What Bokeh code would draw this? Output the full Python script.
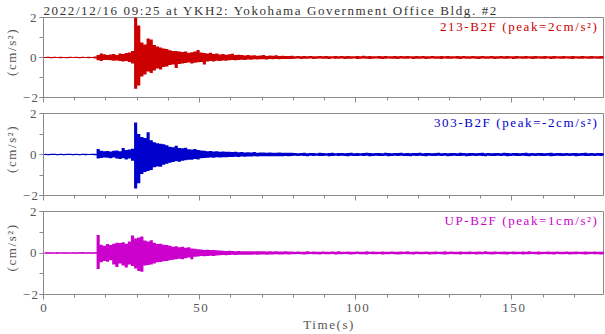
import numpy as np
from bokeh.plotting import figure
from bokeh.layouts import column
from bokeh.models import Label, FixedTicker, Range1d, CustomLabelingPolicy
from bokeh.embed import file_html
from bokeh.resources import INLINE

TITLE = "2022/12/16 09:25 at YKH2: Yokohama Government Office Bldg. #2"
channels = ["213-B2F", "303-B2F", "UP-B2F"]
peaks = ["2", "-2", "1"]
colors = ["#cc0000", "#0000cc", "#cc00cc"]
time_s = list(range(180))          # start of each 1-s bin
x_ticks = [0, 50, 100, 150]
x_minor = list(range(0, 181, 10))
y_ticks = [-2, 0, 2]
y_minor = [-2, -1, 0, 1, 2]

# per-second max / min of each trace (cm/s^2)
red_hi = [
 0.03,0.04,0.03,0.04,0.03,0.04,0.03,0.03,0.04,0.03,
 0.04,0.03,0.04,0.03,0.04,0.03,0.05,0.12,0.20,0.16,
 0.12,0.15,0.18,0.13,0.20,0.17,0.22,0.25,0.32,2.00,
 1.60,0.75,0.65,0.95,0.90,0.62,0.55,0.50,0.45,0.42,
 0.36,0.32,0.33,0.30,0.28,0.30,0.24,0.26,0.30,0.37,
 0.25,0.22,0.20,0.24,0.17,0.20,0.15,0.18,0.14,0.16,
 0.19,0.12,0.14,0.12,0.10,0.12,0.10,0.11,0.09,0.10,
 0.12,0.08,0.10,0.09,0.11,0.08,0.09,0.08,0.07,0.09,
 0.06,0.07,0.06,0.08,0.06,0.07,0.06,0.06,0.08,0.06,
 0.07,0.06,0.06,0.07,0.06,0.08,0.06,0.07,0.06,0.06,
 0.07,0.06,0.09,0.06,0.07,0.06,0.06,0.07,0.06,0.08,
 0.06,0.06,0.07,0.06,0.07,0.06,0.08,0.06,0.06,0.07,
 0.06,0.07,0.06,0.06,0.07,0.06,0.06,0.08,0.06,0.07,
 0.06,0.06,0.07,0.06,0.07,0.06,0.06,0.07,0.06,0.06,
 0.07,0.06,0.06,0.07,0.06,0.06,0.07,0.06,0.07,0.06,
 0.06,0.07,0.06,0.06,0.07,0.06,0.06,0.07,0.06,0.06,
 0.07,0.06,0.06,0.07,0.06,0.06,0.07,0.06,0.06,0.07,
 0.06,0.06,0.07,0.06,0.06,0.07,0.06,0.06,0.07,0.06]
red_lo = [
 -0.03,-0.03,-0.04,-0.03,-0.03,-0.04,-0.03,-0.04,-0.03,-0.03,
 -0.03,-0.04,-0.03,-0.03,-0.04,-0.03,-0.05,-0.14,-0.18,-0.13,
 -0.12,-0.14,-0.16,-0.15,-0.18,-0.20,-0.18,-0.22,-0.30,-1.56,
 -1.40,-0.95,-0.85,-0.70,-0.78,-0.65,-0.55,-0.60,-0.48,-0.45,
 -0.38,-0.35,-0.52,-0.32,-0.30,-0.28,-0.25,-0.30,-0.26,-0.24,
 -0.22,-0.35,-0.20,-0.18,-0.20,-0.16,-0.17,-0.15,-0.16,-0.14,
 -0.13,-0.14,-0.12,-0.11,-0.12,-0.10,-0.11,-0.09,-0.10,-0.09,
 -0.09,-0.10,-0.08,-0.09,-0.08,-0.09,-0.07,-0.08,-0.07,-0.08,
 -0.06,-0.05,-0.07,-0.06,-0.06,-0.05,-0.07,-0.06,-0.05,-0.06,
 -0.06,-0.07,-0.05,-0.06,-0.06,-0.05,-0.07,-0.06,-0.06,-0.05,
 -0.07,-0.06,-0.05,-0.06,-0.08,-0.06,-0.05,-0.06,-0.07,-0.06,
 -0.05,-0.06,-0.06,-0.07,-0.05,-0.06,-0.06,-0.05,-0.07,-0.06,
 -0.06,-0.05,-0.07,-0.06,-0.05,-0.06,-0.06,-0.07,-0.05,-0.06,
 -0.06,-0.05,-0.06,-0.07,-0.05,-0.06,-0.06,-0.05,-0.06,-0.07,
 -0.05,-0.06,-0.06,-0.05,-0.07,-0.06,-0.05,-0.06,-0.06,-0.05,
 -0.07,-0.06,-0.05,-0.06,-0.06,-0.05,-0.07,-0.06,-0.05,-0.06,
 -0.06,-0.05,-0.07,-0.06,-0.05,-0.06,-0.06,-0.05,-0.06,-0.07,
 -0.05,-0.06,-0.06,-0.05,-0.06,-0.06,-0.05,-0.06,-0.06,-0.05]

blue_hi = [
 0.04,0.03,0.04,0.04,0.03,0.04,0.03,0.04,0.04,0.03,
 0.04,0.03,0.04,0.04,0.03,0.04,0.04,0.27,0.18,0.16,
 0.17,0.15,0.18,0.20,0.16,0.32,0.22,0.24,0.28,1.56,
 1.00,0.85,0.80,1.08,0.70,0.60,0.55,0.52,0.50,0.45,
 0.38,0.35,0.43,0.32,0.30,0.33,0.26,0.25,0.27,0.22,
 0.20,0.18,0.16,0.17,0.15,0.16,0.14,0.15,0.13,0.14,
 0.12,0.13,0.11,0.12,0.10,0.11,0.10,0.12,0.09,0.10,
 0.10,0.09,0.10,0.08,0.09,0.10,0.08,0.09,0.08,0.08,
 0.07,0.06,0.07,0.08,0.06,0.07,0.07,0.06,0.08,0.07,
 0.06,0.07,0.08,0.06,0.07,0.07,0.06,0.07,0.08,0.06,
 0.07,0.06,0.07,0.08,0.07,0.06,0.07,0.07,0.06,0.08,
 0.07,0.06,0.07,0.07,0.08,0.06,0.07,0.06,0.07,0.07,
 0.08,0.06,0.07,0.07,0.06,0.07,0.08,0.06,0.07,0.06,
 0.07,0.07,0.06,0.08,0.07,0.06,0.07,0.07,0.06,0.07,
 0.08,0.06,0.07,0.06,0.07,0.07,0.06,0.08,0.07,0.06,
 0.07,0.07,0.06,0.07,0.08,0.06,0.07,0.06,0.07,0.07,
 0.06,0.07,0.08,0.06,0.07,0.07,0.06,0.07,0.06,0.07,
 0.07,0.06,0.07,0.08,0.06,0.07,0.06,0.07,0.07,0.06]
blue_lo = [
 -0.03,-0.04,-0.03,-0.03,-0.04,-0.03,-0.04,-0.03,-0.03,-0.04,
 -0.03,-0.04,-0.03,-0.04,-0.03,-0.03,-0.04,-0.20,-0.17,-0.15,
 -0.16,-0.18,-0.15,-0.20,-0.22,-0.18,-0.24,-0.20,-0.30,-1.66,
 -1.40,-0.95,-0.85,-0.80,-0.75,-0.62,-0.58,-0.60,-0.50,-0.45,
 -0.40,-0.36,-0.33,-0.35,-0.30,-0.28,-0.26,-0.25,-0.22,-0.24,
 -0.18,-0.17,-0.16,-0.15,-0.16,-0.14,-0.15,-0.13,-0.14,-0.12,
 -0.12,-0.11,-0.12,-0.10,-0.11,-0.10,-0.10,-0.09,-0.10,-0.09,
 -0.09,-0.08,-0.09,-0.08,-0.09,-0.08,-0.08,-0.07,-0.08,-0.07,
 -0.06,-0.07,-0.06,-0.07,-0.08,-0.06,-0.07,-0.06,-0.07,-0.07,
 -0.06,-0.08,-0.07,-0.06,-0.07,-0.06,-0.07,-0.08,-0.06,-0.07,
 -0.07,-0.06,-0.07,-0.06,-0.08,-0.07,-0.06,-0.07,-0.07,-0.06,
 -0.08,-0.07,-0.06,-0.07,-0.06,-0.07,-0.07,-0.08,-0.06,-0.07,
 -0.06,-0.07,-0.08,-0.06,-0.07,-0.07,-0.06,-0.07,-0.06,-0.08,
 -0.07,-0.06,-0.07,-0.07,-0.06,-0.08,-0.07,-0.06,-0.07,-0.06,
 -0.07,-0.08,-0.06,-0.07,-0.07,-0.06,-0.07,-0.06,-0.08,-0.07,
 -0.06,-0.07,-0.07,-0.06,-0.07,-0.08,-0.06,-0.07,-0.06,-0.07,
 -0.07,-0.06,-0.08,-0.07,-0.06,-0.07,-0.07,-0.06,-0.07,-0.06,
 -0.08,-0.07,-0.06,-0.07,-0.07,-0.06,-0.07,-0.06,-0.07,-0.06]

mag_hi = [
 0.03,0.04,0.03,0.03,0.04,0.03,0.04,0.03,0.03,0.04,
 0.03,0.04,0.05,0.03,0.04,0.03,0.04,0.87,0.40,0.35,
 0.43,0.38,0.45,0.50,0.48,0.52,0.45,0.55,0.84,0.70,
 0.75,0.80,0.60,0.55,0.62,0.50,0.43,0.45,0.40,0.38,
 0.35,0.30,0.32,0.28,0.30,0.25,0.28,0.22,0.20,0.18,
 0.17,0.15,0.16,0.14,0.15,0.13,0.12,0.11,0.10,0.11,
 0.10,0.09,0.10,0.09,0.08,0.09,0.08,0.09,0.08,0.08,
 0.08,0.07,0.08,0.07,0.08,0.07,0.07,0.08,0.07,0.07,
 0.06,0.07,0.06,0.06,0.08,0.06,0.07,0.06,0.06,0.07,
 0.06,0.06,0.07,0.06,0.08,0.06,0.06,0.07,0.06,0.06,
 0.07,0.06,0.06,0.08,0.06,0.07,0.06,0.06,0.07,0.06,
 0.06,0.07,0.06,0.06,0.07,0.06,0.08,0.06,0.06,0.07,
 0.06,0.06,0.07,0.06,0.06,0.07,0.06,0.06,0.08,0.06,
 0.07,0.06,0.06,0.07,0.06,0.06,0.07,0.06,0.06,0.07,
 0.06,0.08,0.06,0.06,0.07,0.06,0.06,0.07,0.06,0.06,
 0.07,0.06,0.06,0.07,0.06,0.08,0.06,0.06,0.07,0.06,
 0.06,0.07,0.06,0.06,0.07,0.06,0.06,0.07,0.06,0.06,
 0.07,0.06,0.06,0.07,0.06,0.06,0.07,0.06,0.06,0.07]
mag_lo = [
 -0.03,-0.03,-0.04,-0.03,-0.04,-0.03,-0.03,-0.04,-0.03,-0.03,
 -0.04,-0.03,-0.03,-0.04,-0.03,-0.04,-0.03,-0.77,-0.45,-0.38,
 -0.42,-0.35,-0.55,-0.68,-0.50,-0.60,-0.70,-0.55,-0.63,-0.75,
 -0.87,-0.90,-0.60,-0.58,-0.55,-0.50,-0.45,-0.43,-0.40,-0.38,
 -0.35,-0.32,-0.30,-0.28,-0.30,-0.25,-0.22,-0.30,-0.18,-0.17,
 -0.15,-0.16,-0.14,-0.13,-0.14,-0.12,-0.11,-0.10,-0.11,-0.10,
 -0.09,-0.10,-0.08,-0.09,-0.08,-0.08,-0.09,-0.07,-0.08,-0.07,
 -0.07,-0.08,-0.07,-0.07,-0.06,-0.07,-0.07,-0.06,-0.07,-0.06,
 -0.06,-0.05,-0.06,-0.07,-0.06,-0.05,-0.06,-0.06,-0.07,-0.05,
 -0.06,-0.06,-0.05,-0.07,-0.06,-0.06,-0.05,-0.06,-0.07,-0.06,
 -0.05,-0.06,-0.06,-0.07,-0.05,-0.06,-0.06,-0.05,-0.07,-0.06,
 -0.06,-0.05,-0.06,-0.07,-0.06,-0.05,-0.06,-0.06,-0.07,-0.05,
 -0.06,-0.06,-0.05,-0.07,-0.06,-0.06,-0.05,-0.06,-0.07,-0.06,
 -0.05,-0.06,-0.06,-0.07,-0.05,-0.06,-0.06,-0.05,-0.07,-0.06,
 -0.06,-0.05,-0.06,-0.07,-0.06,-0.05,-0.06,-0.06,-0.07,-0.05,
 -0.06,-0.06,-0.05,-0.07,-0.06,-0.06,-0.05,-0.06,-0.07,-0.06,
 -0.05,-0.06,-0.06,-0.07,-0.05,-0.06,-0.06,-0.05,-0.07,-0.06,
 -0.06,-0.05,-0.06,-0.07,-0.06,-0.05,-0.06,-0.06,-0.07,-0.05]

his = [red_hi, blue_hi, mag_hi]
los = [red_lo, blue_lo, mag_lo]

FONT = "Liberation Serif"
FS = "13px"
GRAY = "#555555"
FRAME = "#8a8a8a"
LS = 1.6
SPACING = {"letter-spacing": f"{LS}px"}

heights = [106, 98, 130]
tops = [16, 7, 7]
bottoms = [7, 8, 40]

figs = []
for i in range(3):
    p = figure(width=605, height=heights[i], x_range=Range1d(0, 179.3),
               y_range=Range1d(-2, 2), output_backend="svg", toolbar_location=None,
               min_border_left=42, min_border_right=2,
               min_border_top=tops[i], min_border_bottom=bottoms[i],
               styles=SPACING)
    centers = [t + 0.5 for t in time_s]
    p.varea_step(x=centers, y1=los[i], y2=his[i], step_mode="center",
                 fill_color=colors[i])
    p.line([time_s[0], time_s[-1] + 1], [0, 0], line_color=colors[i], line_width=1)

    p.xgrid.visible = False
    p.ygrid.visible = False
    p.outline_line_color = FRAME
    p.outline_line_width = 1
    p.background_fill_color = "white"
    p.border_fill_color = "white"

    xa = p.xaxis[0]
    xa.ticker = FixedTicker(ticks=x_ticks, minor_ticks=x_minor)
    xa.axis_line_color = FRAME
    xa.major_tick_line_color = FRAME
    xa.minor_tick_line_color = FRAME
    xa.major_tick_out = 5
    xa.major_tick_in = 0
    xa.minor_tick_out = 3
    xa.minor_tick_in = 0
    if i < 2:
        xa.major_label_text_font_size = "1px"
        xa.major_label_standoff = 0
        xa.major_label_policy = CustomLabelingPolicy(code="return []")
    else:
        xa.major_label_text_font = FONT
        xa.major_label_text_font_size = FS
        xa.major_label_text_color = GRAY
        xa.major_label_standoff = 4
        xa.axis_label = "Time(s)"
        xa.axis_label_text_font = FONT
        xa.axis_label_text_font_size = FS
        xa.axis_label_text_font_style = "normal"
        xa.axis_label_text_color = GRAY
        xa.axis_label_standoff = 2

    ya = p.yaxis[0]
    ya.ticker = FixedTicker(ticks=y_ticks, minor_ticks=y_minor)
    ya.axis_line_color = FRAME
    ya.major_tick_line_color = FRAME
    ya.minor_tick_line_color = FRAME
    ya.major_tick_out = 4
    ya.major_tick_in = 0
    ya.minor_tick_out = 4
    ya.minor_tick_in = 0
    ya.major_label_text_font = FONT
    ya.major_label_text_font_size = FS
    ya.major_label_text_color = GRAY
    ya.major_label_standoff = 3
    ya.axis_label = "(cm/s²)"
    ya.axis_label_text_font = FONT
    ya.axis_label_text_font_size = FS
    ya.axis_label_text_font_style = "normal"
    ya.axis_label_text_color = GRAY
    ya.axis_label_standoff = 1

    txt = f"{channels[i]} (peak={peaks[i]}cm/s²)"
    p.add_layout(Label(x=177.7, y=1.57, text=txt, x_offset=-LS * len(txt),
                       text_align="right", text_baseline="middle",
                       text_color=colors[i], text_font=FONT, text_font_size=FS))

    if i == 0:
        p.title.text = TITLE
        p.title.text_font = FONT
        p.title.text_font_size = FS
        p.title.text_font_style = "normal"
        p.title.text_color = "#333333"
        p.title.align = "left"
        p.title.standoff = 0
        p.title.offset = 0
    figs.append(p)

layout = column(*figs, spacing=0)
open("out.html", "w").write(file_html(layout, INLINE))
